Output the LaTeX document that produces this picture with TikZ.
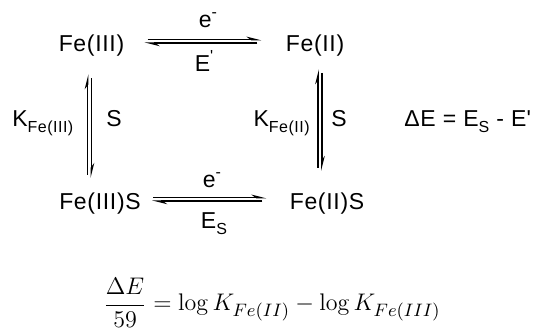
\documentclass[tikz,border=0pt]{standalone}
\usepackage[no-math]{fontspec}
\usepackage{amsmath}
\usepackage{tikz}
\usetikzlibrary{arrows.meta, calc}
\newfontfamily\chemfont{Liberation Sans}[LetterSpace=3]
\newcommand{\chemsub}[1]{\raisebox{-3pt}{\fontsize{8}{9}\selectfont #1}}
\newcommand{\chemsup}[1]{\raisebox{5pt}{\fontsize{8}{9}\selectfont #1}}

\begin{document}
\begin{tikzpicture}[x=0.5pt, y=-0.5pt,
    species/.style={font=\chemfont\fontsize{11.5}{14}\selectfont, inner sep=0pt, anchor=base},
    harp/.style={line width=0.75pt, -{Stealth[left, length=6pt, width=3pt]}}]
  \useasboundingbox (0,0) rectangle (534,330);

  % the four species
  \node[species] (fe3) at (91.5,52) {Fe(III)};
  \node[species] (fe2) at (315,52) {Fe(II)};
  \node[species] (fe3s) at (100,210) {Fe(III)S};
  \node[species] (fe2s) at (327,210) {Fe(II)S};

  % reduction equilibria
  \draw[harp] ($(fe3.base east)+(11.5pt,6.2pt)$) -- ($(fe2.base west)+(-12pt,6.2pt)$);
  \draw[harp] ($(fe2.base west)+(-14pt,4.4pt)$) -- ($(fe3.base east)+(10pt,4.4pt)$);
  \node[species] (e1) at (208,28) {e\chemsup{-}};
  \node[species] (ep) at (204,72) {E\chemsup{\textquotesingle}};

  \draw[harp] ($(fe3s.base east)+(6pt,6.2pt)$) -- ($(fe2s.base west)+(-11.5pt,6.2pt)$);
  \draw[harp] ($(fe2s.base west)+(-13.5pt,4.4pt)$) -- ($(fe3s.base east)+(5.5pt,4.4pt)$);
  \node[species] (e2) at (212,188) {e\chemsup{-}};
  \node[species] (es) at (214,229) {E\chemsub{S}};

  % binding equilibria
  \draw[harp] ($(fe3.south |- fe3s.north)+(-1.9pt,9pt)$) -- ($(fe3.south)+(-1.9pt,-8.5pt)$);
  \draw[harp] ($(fe3.south)+(-0.1pt,-10.5pt)$) -- ($(fe3.south |- fe3s.north)+(-0.1pt,7.5pt)$);
  \node[species, anchor=base west] (kfe3) at (12,127) {K\chemsub{Fe(III)}};
  \node[species] (s1) at (114,127) {S};

  \draw[harp] ($(fe2.south |- fe2s.north)+(1.6pt,12.5pt)$) -- ($(fe2.south)+(1.6pt,-6pt)$);
  \draw[harp] ($(fe2.south)+(3.4pt,-7.8pt)$) -- ($(fe2.south |- fe2s.north)+(3.4pt,11pt)$);
  \node[species, anchor=base east] (kfe2) at (310,127) {K\chemsub{Fe(II)}};
  \node[species] (s2) at (339,127) {S};

  \node[species, anchor=base west] (dE) at (404,127) {ΔE = E\chemsub{S} - E\textquotesingle};

  % relation between the potentials and the constants
  \node[anchor=base, font=\fontsize{13}{16}\selectfont] (eqn) at (272,311)
    {$\dfrac{\Delta E}{59} = \log K_{Fe(II)} - \log K_{Fe(III)}$};
\end{tikzpicture}
\end{document}
